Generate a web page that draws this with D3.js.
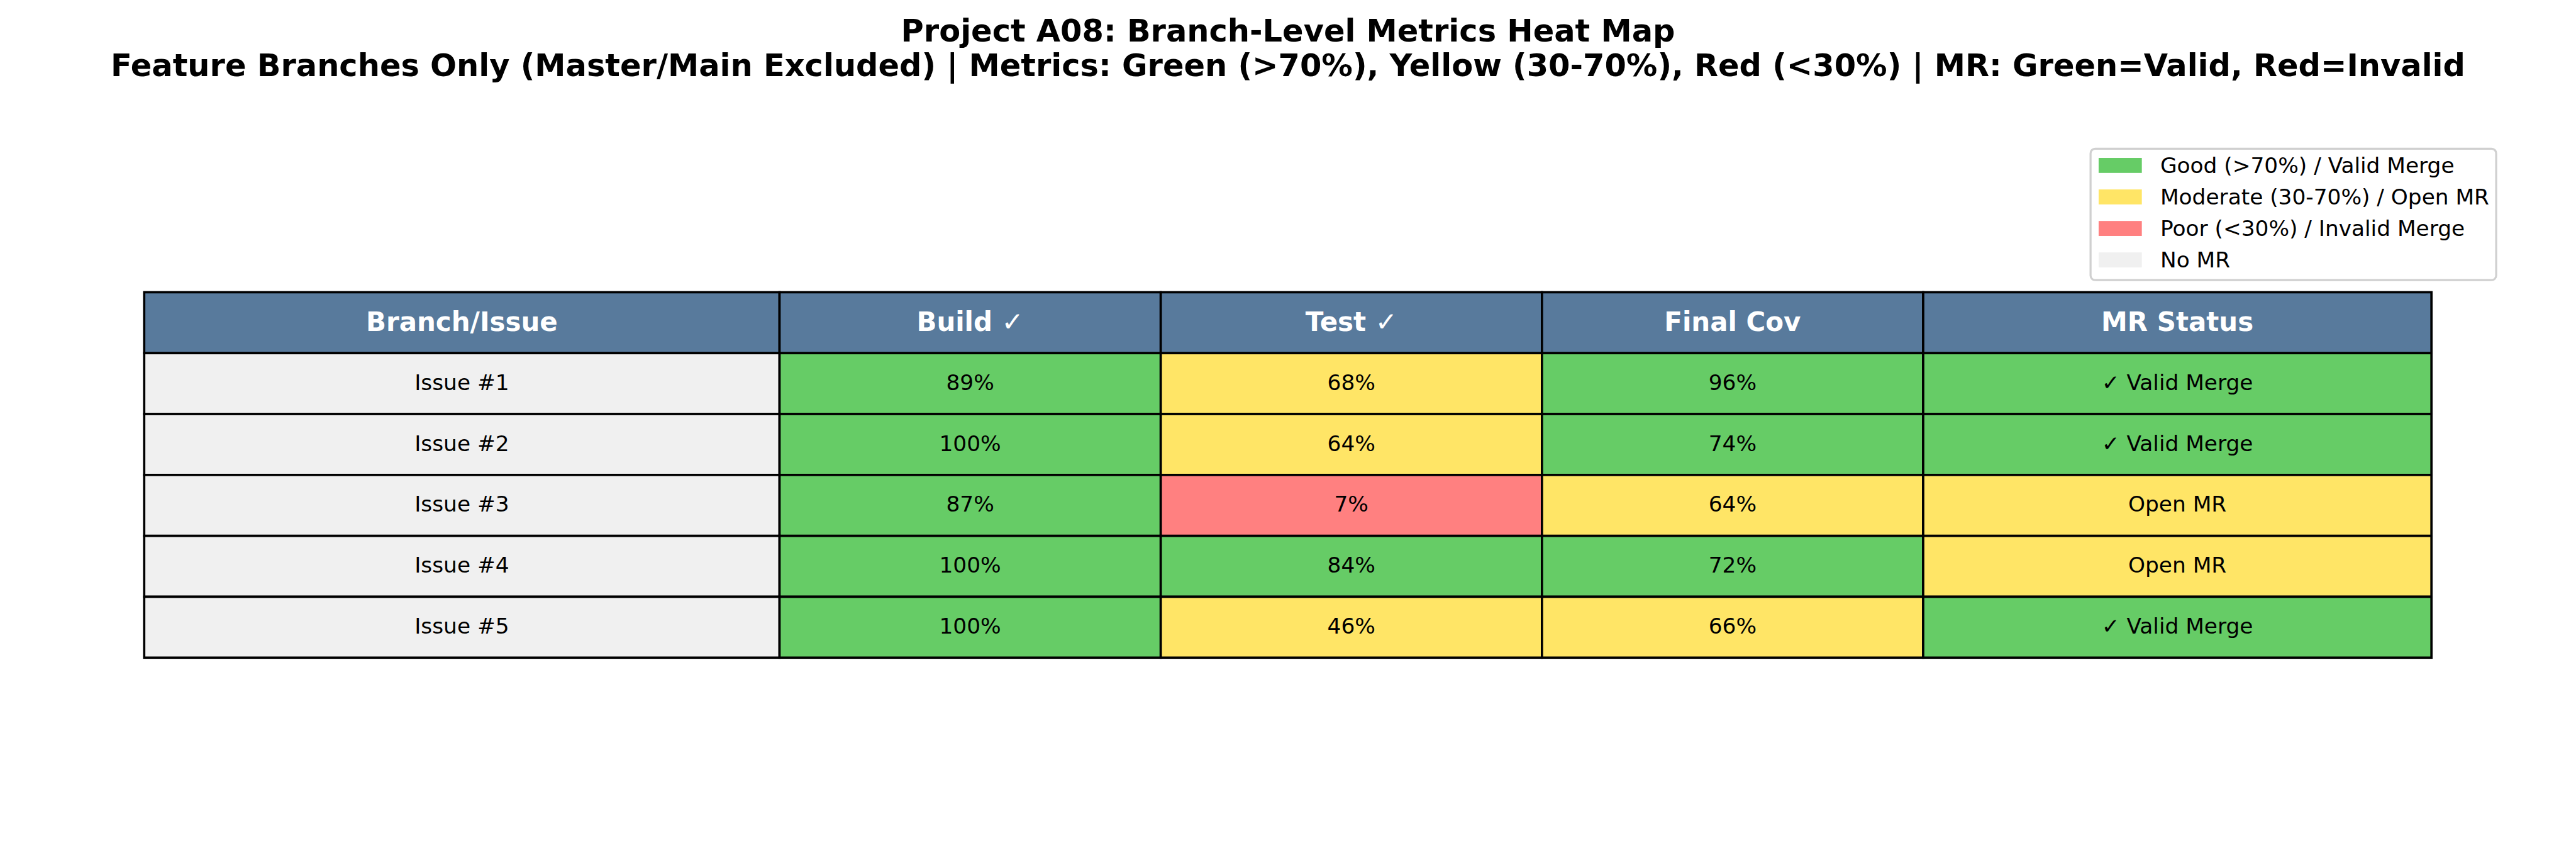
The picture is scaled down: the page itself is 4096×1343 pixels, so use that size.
<!DOCTYPE html>
<html><head><meta charset="utf-8">
<script src="https://cdn.jsdelivr.net/npm/d3@7"></script>
<style>html,body{margin:0;padding:0;background:#fff;overflow:hidden}</style>
</head><body>
<svg id="chart"></svg>
<script>
// ---- data ----
const titleLines = ["Project A08: Branch-Level Metrics Heat Map",
  "Feature Branches Only (Master/Main Excluded) | Metrics: Green (>70%), Yellow (30-70%), Red (<30%) | MR: Green=Valid, Red=Invalid"];
const columns = ["Branch/Issue", "Build \u2713", "Test \u2713", "Final Cov", "MR Status"];
const colWidths = [0.25, 0.15, 0.15, 0.15, 0.2];
const issues = ["Issue #1", "Issue #2", "Issue #3", "Issue #4", "Issue #5"];
const build = [89, 100, 87, 100, 100];
const test = [68, 64, 7, 84, 46];
const finalCov = [96, 74, 64, 72, 66];
const mrStatus = ["valid", "valid", "open", "open", "valid"];
const mrLabels = {valid: "\u2713 Valid Merge", open: "Open MR", invalid: "\u2717 Invalid Merge", none: "No MR"};
const legendLabels = ["Good (>70%) / Valid Merge", "Moderate (30-70%) / Open MR", "Poor (<30%) / Invalid Merge", "No MR"];

// ---- style ----
const C = {good: "#66cc66", mod: "#ffe566", poor: "#ff8080", none: "#f0f0f0", header: "#587a9c"};
const W = 4470, H = 1466;
const font = "'DejaVu Sans', sans-serif";

const svg = d3.select("#chart").attr("width", 4096).attr("height", 1343)
  .attr("viewBox", `0 0 ${W} ${H}`).style("font-family", font);

// title
svg.selectAll("text.title").data(titleLines).join("text")
  .attr("class", "title").attr("x", W / 2).attr("y", (d, i) => 72 + i * 60)
  .attr("text-anchor", "middle").attr("font-size", 54).attr("font-weight", "bold")
  .attr("fill", "#000").text(d => d);

// table scales
const cum = colWidths.reduce((a, w) => (a.push(a[a.length - 1] + w), a), [0]);
const x = d3.scaleLinear().domain([0, d3.sum(colWidths)]).range([249.7, 4219.7]);
const y = d3.scaleBand().domain(["header", ...issues]).range([507, 1141]);

const metricColor = v => v > 70 ? C.good : (v >= 30 ? C.mod : C.poor);
const mrColor = s => s === "valid" ? C.good : s === "open" ? C.mod : s === "invalid" ? C.poor : C.none;

const cells = [];
columns.forEach((c, j) => cells.push({row: "header", col: j, text: c, fill: C.header, header: true}));
issues.forEach((iss, i) => {
  cells.push({row: iss, col: 0, text: iss, fill: C.none});
  cells.push({row: iss, col: 1, text: build[i] + "%", fill: metricColor(build[i])});
  cells.push({row: iss, col: 2, text: test[i] + "%", fill: metricColor(test[i])});
  cells.push({row: iss, col: 3, text: finalCov[i] + "%", fill: metricColor(finalCov[i])});
  cells.push({row: iss, col: 4, text: mrLabels[mrStatus[i]], fill: mrColor(mrStatus[i])});
});

const g = svg.append("g");
const cg = g.selectAll("g.cell").data(cells).join("g").attr("class", "cell");
cg.append("rect")
  .attr("x", d => x(cum[d.col])).attr("y", d => y(d.row))
  .attr("width", d => x(cum[d.col + 1]) - x(cum[d.col])).attr("height", y.bandwidth())
  .attr("fill", d => d.fill).attr("stroke", "#000").attr("stroke-width", 4);
cg.append("text")
  .attr("x", d => (x(cum[d.col]) + x(cum[d.col + 1])) / 2)
  .attr("y", d => y(d.row) + y.bandwidth() / 2 + (d.header ? 14 : 11))
  .attr("text-anchor", "middle")
  .attr("font-size", d => d.header ? 45.8 : 37.5)
  .attr("font-weight", d => d.header ? "bold" : "normal")
  .attr("fill", d => d.header ? "#fff" : "#000")
  .text(d => d.text);

// legend
const legColors = [C.good, C.mod, C.poor, C.none];
const lg = svg.append("g");
lg.append("rect").attr("x", 3628).attr("y", 258).attr("width", 704).attr("height", 228)
  .attr("rx", 8).attr("fill", "#fff").attr("stroke", "#d0d0d0").attr("stroke-width", 3.5);
const ly = d3.scalePoint().domain(legendLabels).range([287, 451]);
const li = lg.selectAll("g.li").data(legendLabels).join("g").attr("class", "li");
li.append("rect").attr("x", 3642).attr("y", d => ly(d) - 13).attr("width", 75).attr("height", 26)
  .attr("fill", (d, i) => legColors[i]);
li.append("text").attr("x", 3749).attr("y", d => ly(d) + 13)
  .attr("font-size", 37.5).attr("fill", "#000").text(d => d);
</script>
</body></html>
